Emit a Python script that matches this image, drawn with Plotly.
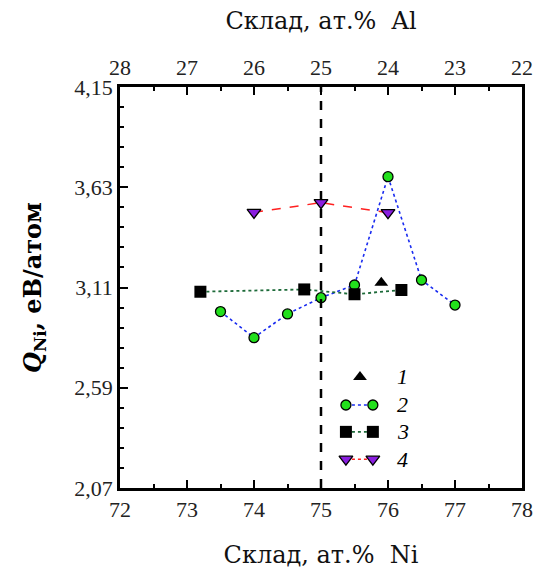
import plotly.graph_objects as go

# Composition (at.% Ni) and Q_Ni (eV/atom) for each data set
ni_1 = [75.9]
q_1 = [3.135]

ni_2 = [73.5, 74.0, 74.5, 75.0, 75.5, 76.0, 76.5, 77.0]
q_2 = [2.985, 2.85, 2.973, 3.057, 3.123, 3.685, 3.149, 3.019]

ni_3 = [73.2, 74.75, 75.5, 76.2]
q_3 = [3.088, 3.10, 3.075, 3.097]

ni_4 = [74.0, 75.0, 76.0]
q_4 = [3.50, 3.55, 3.498]

y_ticks = [2.07, 2.59, 3.11, 3.63, 4.15]
y_labels = ["2,07", "2,59", "3,11", "3,63", "4,15"]
x_ticks = [72, 73, 74, 75, 76, 77, 78]
al_ticks = [28, 27, 26, 25, 24, 23, 22]
legend_names = ["1", "2", "3", "4"]

TICK_STYLE = "font-family:'Liberation Serif';font-size:22px"


def styled(labels):
    return [f"<span style=\"{TICK_STYLE}\">{s}</span>" for s in labels]


def title_font():
    return dict(family="DejaVu Serif", size=24, color="#111")


def minor_ticks(**extra):
    d = dict(ticks="inside", ticklen=4, tickwidth=1.5, tickcolor="black")
    d.update(extra)
    return d


def axis_common():
    return dict(ticks="inside", ticklen=8, tickwidth=1.5, tickcolor="black",
                showline=True, linecolor="black", linewidth=2.5,
                showgrid=False, zeroline=False, automargin=False,
                tickfont=dict(family="Liberation Serif", size=22, color="#222"))


fig = go.Figure()

fig.add_trace(go.Scatter(
    x=ni_2, y=q_2, mode="lines+markers",
    line=dict(color="#1a2cf0", width=1.6, dash="dot"),
    marker=dict(symbol="circle", size=10, color="#22e01c",
                line=dict(color="black", width=1.3)),
    showlegend=False))
fig.add_trace(go.Scatter(
    x=ni_3, y=q_3, mode="lines+markers",
    line=dict(color="#1e6b3a", width=1.8, dash="dot"),
    marker=dict(symbol="square", size=12, color="black"),
    showlegend=False))
fig.add_trace(go.Scatter(
    x=ni_4, y=q_4, mode="lines+markers",
    line=dict(color="#ff2020", width=1.5, dash="dash"),
    marker=dict(symbol="triangle-down", size=12, color="#8a1ee0",
                line=dict(color="black", width=1.3)),
    showlegend=False))
fig.add_trace(go.Scatter(
    x=ni_1, y=q_1, mode="markers",
    marker=dict(symbol="triangle-up", size=12, color="black"),
    showlegend=False))

# Top axis: Al content (100 - Ni), drawn as an overlaid reversed axis
fig.add_trace(go.Scatter(x=[28, 22], y=[2.07, 2.07], xaxis="x2", mode="none",
                         showlegend=False, hoverinfo="skip"))

# Hand-drawn key in an invisible unit axis over the plot area
key_x0, key_x1, key_xm, key_tx = 0.562, 0.629, 0.597, 0.684
key_y = [0.277, 0.207, 0.140, 0.072]
key_styles = [
    None,
    (dict(color="#1a2cf0", width=1.6, dash="dot"),
     dict(symbol="circle", size=10, color="#22e01c", line=dict(color="black", width=1.3))),
    (dict(color="#1e6b3a", width=1.8, dash="dot"),
     dict(symbol="square", size=12, color="black")),
    (dict(color="#ff2020", width=1.5, dash="dot"),
     dict(symbol="triangle-down", size=12, color="#8a1ee0", line=dict(color="black", width=1.3))),
]
fig.add_trace(go.Scatter(x=[key_xm], y=[key_y[0]], xaxis="x3", yaxis="y3", mode="markers",
                         marker=dict(symbol="triangle-up", size=12, color="black"),
                         showlegend=False, hoverinfo="skip"))
for i in range(1, 4):
    ln, mk = key_styles[i]
    fig.add_trace(go.Scatter(x=[key_x0, key_x1], y=[key_y[i], key_y[i]],
                             xaxis="x3", yaxis="y3", mode="lines+markers",
                             line=ln, marker=mk, showlegend=False, hoverinfo="skip"))
for i, name in enumerate(legend_names):
    fig.add_annotation(x=key_tx, y=key_y[i], xref="x3", yref="y3", text=f"<i>{name}</i>",
                       showarrow=False, xanchor="left",
                       font=dict(family="Liberation Serif", size=22, color="black"))

# Vertical dashed marker at 75 at.% Ni
fig.add_shape(type="line", x0=75, x1=75, y0=0, y1=1, xref="x", yref="paper",
              line=dict(color="black", width=2.5, dash="dash"))

fig.update_layout(
    width=547, height=569,
    margin=dict(l=120, r=25, t=87, b=81),
    paper_bgcolor="white", plot_bgcolor="white",
    font=dict(family="Liberation Serif", size=22, color="#222"),
    xaxis=dict(range=[72, 78], tickvals=x_ticks, ticktext=styled([str(v) for v in x_ticks]),
               minor=minor_ticks(dtick=0.5), mirror=False,
               title=dict(text="Склад, ат.%\u00a0 Ni", font=title_font(), standoff=26),
               **axis_common()),
    xaxis2=dict(range=[28, 22], overlaying="x", side="top", tickvals=al_ticks,
                ticktext=styled([str(v) for v in al_ticks]),
                minor=minor_ticks(dtick=0.5),
                title=dict(text="Склад, ат.%\u00a0 Al", font=title_font(), standoff=20),
                **axis_common()),
    yaxis=dict(range=[2.07, 4.15], tickvals=y_ticks, ticktext=styled(y_labels),
               minor=minor_ticks(tick0=2.07, dtick=0.104), mirror=True,
               title=dict(text="<b><i>Q</i><sub>Ni</sub>, еВ/атом</b>",
                          font=dict(family="DejaVu Serif", size=24, color="black"),
                          standoff=26),
               **axis_common()),
    xaxis3=dict(range=[0, 1], overlaying="x", visible=False, fixedrange=True),
    yaxis3=dict(range=[0, 1], overlaying="y", visible=False, fixedrange=True),
)

fig.write_html("out.html")
